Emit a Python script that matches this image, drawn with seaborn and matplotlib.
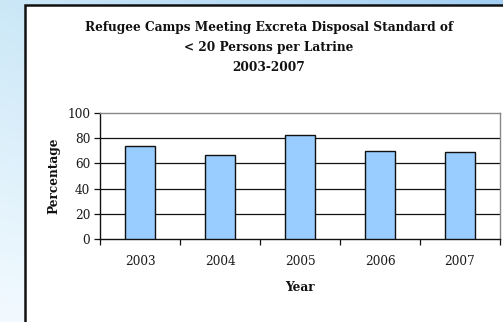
import numpy as np
import matplotlib
matplotlib.use("Agg")
import matplotlib.pyplot as plt
from matplotlib.patches import Rectangle
import seaborn as sns
import pandas as pd

# Share of refugee camps meeting the excreta disposal standard
years = ["2003", "2004", "2005", "2006", "2007"]
percentage = [74, 67, 83, 70, 69]
y_ticks = [0, 20, 40, 60, 80, 100]

title_lines = [
    "Refugee Camps Meeting Excreta Disposal Standard of",
    "< 20 Persons per Latrine",
    "2003-2007",
]

sns.set_theme(style="white")
plt.rcParams["font.family"] = ["DejaVu Serif"]

W, H = 503, 322
fig = plt.figure(figsize=(W / 100, H / 100), dpi=100)

# Soft blue slide background behind the chart
bg = fig.add_axes([0, 0, 1, 1])
xx = np.linspace(0, 1, 200)[None, :]
yy = np.linspace(0, 1, 120)[:, None]
top = np.array([0.80, 0.91, 0.97]) * (1 - xx[..., None]) + np.array([0.64, 0.81, 0.95]) * xx[..., None]
bottom = np.array([0.95, 0.98, 1.0])
img = top * (1 - yy[..., None]) + bottom * yy[..., None]
bg.imshow(img, extent=[0, 1, 0, 1], origin="upper", aspect="auto")
bg.set_xlim(0, 1)
bg.set_ylim(0, 1)
bg.axis("off")

# White chart panel with dark border
x0, y0 = 25 / W, 1 - 5 / H
bg.add_patch(Rectangle((x0, -0.1), 1.2, y0 + 0.1, facecolor="white",
                       edgecolor="#111111", linewidth=1.8, zorder=3))

for i, line in enumerate(title_lines):
    fig.text(269 / W, 1 - (27 + 20.5 * i) / H, line, ha="center", va="center",
             fontsize=8.7, fontweight="bold", color="#111111")

ax = fig.add_axes([100 / W, 1 - 238.7 / H, 400 / W, 125.4 / H])
df = pd.DataFrame({"Year": years, "Percentage": percentage})
sns.barplot(data=df, x="Year", y="Percentage", color="#99ccff",
            edgecolor="#111111", linewidth=1.0, width=0.37, saturation=1,
            ax=ax, zorder=3)

ax.set_ylim(0, 100)
ax.set_xlim(-0.5, len(years) - 0.5)
ax.set_yticks(y_ticks)
ax.set_yticklabels([str(t) for t in y_ticks], fontsize=8.7, color="#1a1a1a")
for t in y_ticks[1:-1]:
    ax.axhline(t, color="#111111", linewidth=0.9, zorder=1)

ax.set_xticks(range(len(years)))
ax.set_xticklabels(years, fontsize=8.7, color="#1a1a1a")
ax.set_xticks(np.arange(len(years) + 1) - 0.5, minor=True)
ax.tick_params(axis="x", which="major", length=0, pad=12)
ax.tick_params(axis="x", which="minor", length=4, width=0.9, color="#111111", direction="out", bottom=True)
ax.tick_params(axis="y", which="major", length=4, width=0.9, color="#111111", direction="out", left=True, pad=3)

for side in ["top", "right"]:
    ax.spines[side].set_color("#888888")
    ax.spines[side].set_linewidth(1.0)
for side in ["left", "bottom"]:
    ax.spines[side].set_color("#111111")
    ax.spines[side].set_linewidth(1.0)

ax.set_xlabel("Year", fontsize=8.7, fontweight="bold", color="#111111", labelpad=9)
ax.set_ylabel("Percentage", fontsize=8.7, fontweight="bold", color="#111111", labelpad=5)

fig.savefig("out.png", dpi=100)
